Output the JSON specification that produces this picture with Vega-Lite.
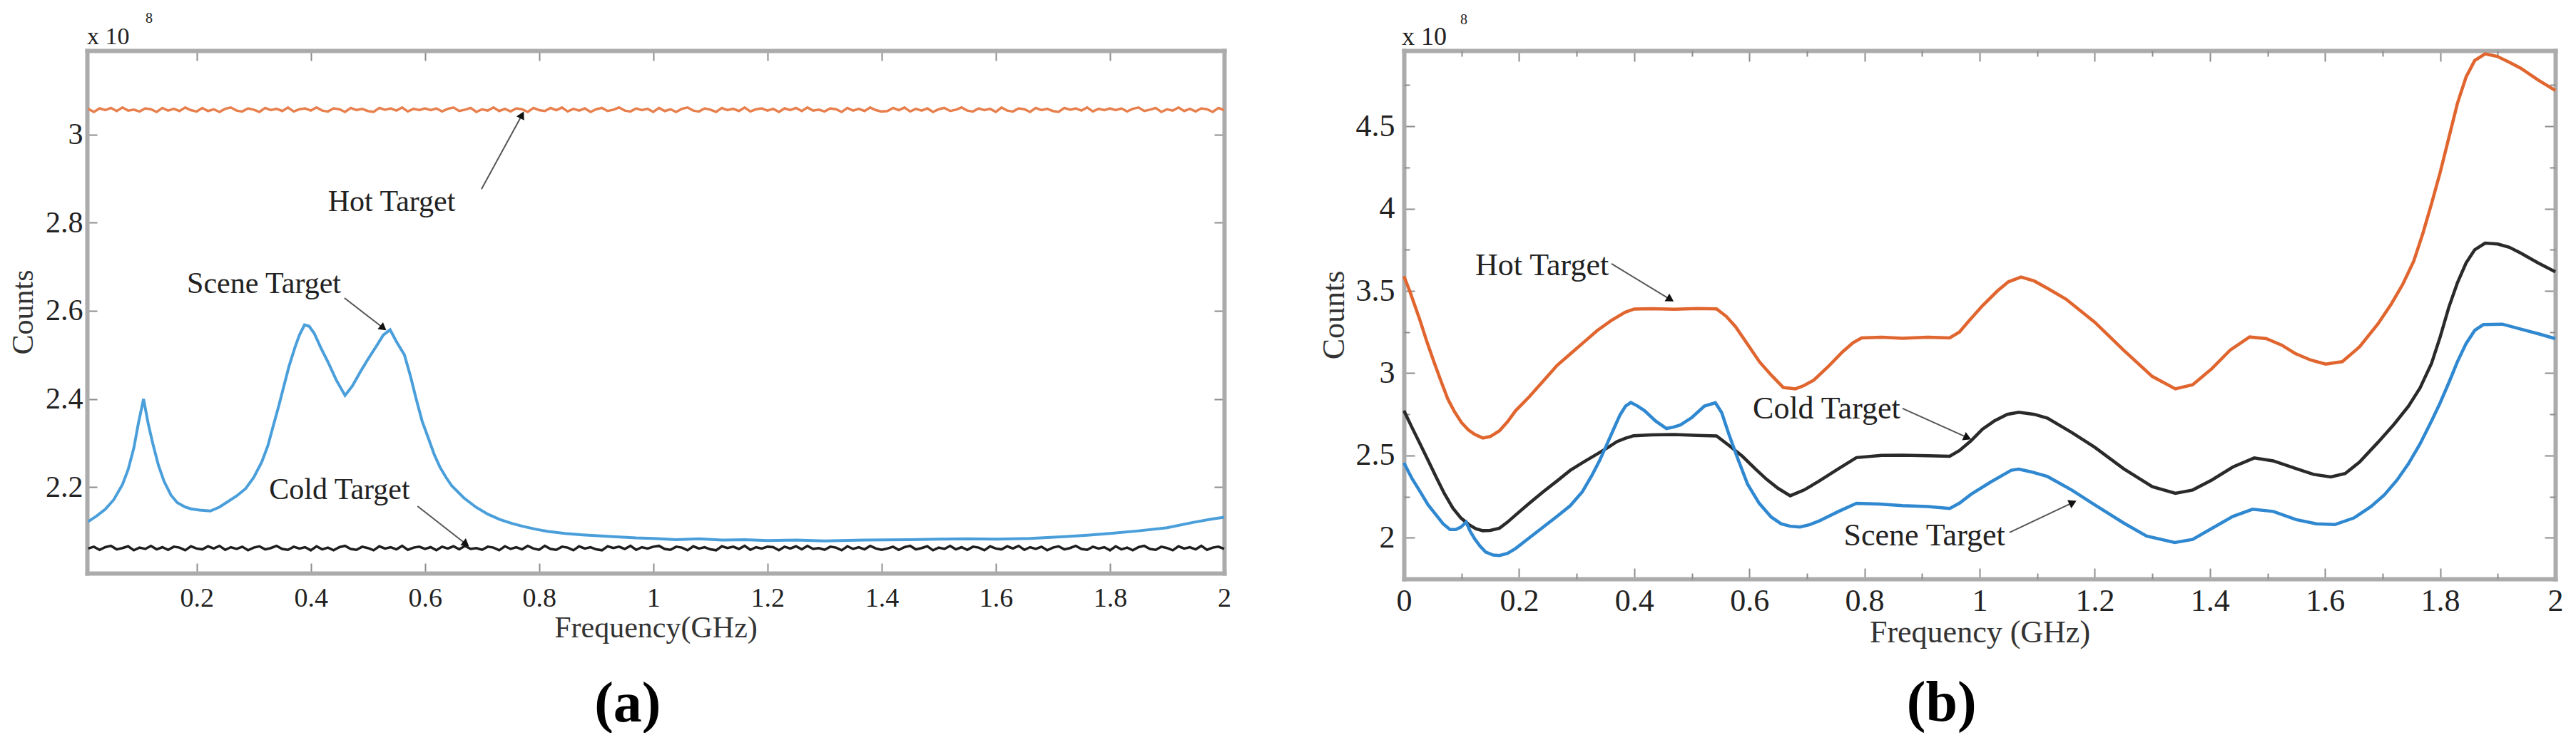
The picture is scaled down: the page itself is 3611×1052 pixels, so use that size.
{
"$schema": "https://vega.github.io/schema/vega-lite/v6.json",
"background": "white",
"padding": {"left": 11, "top": 16, "right": 0, "bottom": 0},
"config": {"font": "Liberation Serif", "view": {"stroke": null}, "axis": {"grid": false}},
"datasets": {
"a_noise": [
{"f":0.01,"H":3.058,"C":2.061},{"f":0.02,"H":3.051,"C":2.065},{"f":0.03,"H":3.059,"C":2.058},{"f":0.04,"H":3.055,"C":2.064},{"f":0.05,"H":3.060,"C":2.067},
{"f":0.06,"H":3.053,"C":2.059},{"f":0.07,"H":3.061,"C":2.062},{"f":0.08,"H":3.054,"C":2.066},{"f":0.09,"H":3.056,"C":2.057},{"f":0.10,"H":3.052,"C":2.063},
{"f":0.11,"H":3.059,"C":2.060},{"f":0.12,"H":3.057,"C":2.067},{"f":0.13,"H":3.051,"C":2.059},{"f":0.14,"H":3.060,"C":2.064},{"f":0.15,"H":3.054,"C":2.058},
{"f":0.16,"H":3.058,"C":2.065},{"f":0.17,"H":3.053,"C":2.063},{"f":0.18,"H":3.061,"C":2.057},{"f":0.19,"H":3.055,"C":2.066},{"f":0.20,"H":3.052,"C":2.061},
{"f":0.21,"H":3.060,"C":2.059},{"f":0.22,"H":3.053,"C":2.066},{"f":0.23,"H":3.057,"C":2.061},{"f":0.24,"H":3.051,"C":2.067},{"f":0.25,"H":3.058,"C":2.058},
{"f":0.26,"H":3.061,"C":2.064},{"f":0.27,"H":3.054,"C":2.060},{"f":0.28,"H":3.052,"C":2.065},{"f":0.29,"H":3.059,"C":2.057},{"f":0.30,"H":3.056,"C":2.063},
{"f":0.31,"H":3.051,"C":2.066},{"f":0.32,"H":3.060,"C":2.059},{"f":0.33,"H":3.055,"C":2.062},{"f":0.34,"H":3.058,"C":2.067},{"f":0.35,"H":3.053,"C":2.060},
{"f":0.36,"H":3.061,"C":2.058},{"f":0.37,"H":3.052,"C":2.065},{"f":0.38,"H":3.057,"C":2.061},{"f":0.39,"H":3.059,"C":2.064},{"f":0.40,"H":3.054,"C":2.057},
{"f":0.41,"H":3.061,"C":2.066},{"f":0.42,"H":3.054,"C":2.059},{"f":0.43,"H":3.052,"C":2.063},{"f":0.44,"H":3.059,"C":2.057},{"f":0.45,"H":3.057,"C":2.064},
{"f":0.46,"H":3.051,"C":2.067},{"f":0.47,"H":3.060,"C":2.060},{"f":0.48,"H":3.055,"C":2.058},{"f":0.49,"H":3.058,"C":2.065},{"f":0.50,"H":3.053,"C":2.062},
{"f":0.51,"H":3.051,"C":2.057},{"f":0.52,"H":3.060,"C":2.066},{"f":0.53,"H":3.056,"C":2.061},{"f":0.54,"H":3.059,"C":2.064},{"f":0.55,"H":3.054,"C":2.059},
{"f":0.56,"H":3.061,"C":2.067},{"f":0.57,"H":3.052,"C":2.058},{"f":0.58,"H":3.058,"C":2.063},{"f":0.59,"H":3.055,"C":2.065},{"f":0.60,"H":3.059,"C":2.060},
{"f":0.61,"H":3.055,"C":2.064},{"f":0.62,"H":3.059,"C":2.057},{"f":0.63,"H":3.052,"C":2.065},{"f":0.64,"H":3.058,"C":2.061},{"f":0.65,"H":3.061,"C":2.066},
{"f":0.66,"H":3.053,"C":2.059},{"f":0.67,"H":3.056,"C":2.067},{"f":0.68,"H":3.060,"C":2.060},{"f":0.69,"H":3.051,"C":2.062},{"f":0.70,"H":3.057,"C":2.058},
{"f":0.71,"H":3.054,"C":2.065},{"f":0.72,"H":3.061,"C":2.063},{"f":0.73,"H":3.053,"C":2.057},{"f":0.74,"H":3.058,"C":2.066},{"f":0.75,"H":3.052,"C":2.060},
{"f":0.76,"H":3.059,"C":2.064},{"f":0.77,"H":3.057,"C":2.059},{"f":0.78,"H":3.051,"C":2.067},{"f":0.79,"H":3.060,"C":2.061},{"f":0.80,"H":3.055,"C":2.058},
{"f":0.81,"H":3.053,"C":2.067},{"f":0.82,"H":3.060,"C":2.060},{"f":0.83,"H":3.055,"C":2.058},{"f":0.84,"H":3.061,"C":2.065},{"f":0.85,"H":3.052,"C":2.063},
{"f":0.86,"H":3.058,"C":2.057},{"f":0.87,"H":3.054,"C":2.066},{"f":0.88,"H":3.059,"C":2.061},{"f":0.89,"H":3.051,"C":2.064},{"f":0.90,"H":3.057,"C":2.059},
{"f":0.91,"H":3.060,"C":2.057},{"f":0.92,"H":3.053,"C":2.066},{"f":0.93,"H":3.056,"C":2.062},{"f":0.94,"H":3.061,"C":2.065},{"f":0.95,"H":3.054,"C":2.060},
{"f":0.96,"H":3.052,"C":2.067},{"f":0.97,"H":3.059,"C":2.058},{"f":0.98,"H":3.055,"C":2.064},{"f":0.99,"H":3.058,"C":2.061},{"f":1.00,"H":3.051,"C":2.065},
{"f":1.01,"H":3.060,"C":2.067},{"f":1.02,"H":3.053,"C":2.060},{"f":1.03,"H":3.057,"C":2.058},{"f":1.04,"H":3.051,"C":2.065},{"f":1.05,"H":3.058,"C":2.063},
{"f":1.06,"H":3.061,"C":2.057},{"f":1.07,"H":3.054,"C":2.066},{"f":1.08,"H":3.052,"C":2.061},{"f":1.09,"H":3.059,"C":2.064},{"f":1.10,"H":3.056,"C":2.059},
{"f":1.11,"H":3.051,"C":2.057},{"f":1.12,"H":3.060,"C":2.066},{"f":1.13,"H":3.055,"C":2.062},{"f":1.14,"H":3.058,"C":2.065},{"f":1.15,"H":3.053,"C":2.060},
{"f":1.16,"H":3.061,"C":2.067},{"f":1.17,"H":3.052,"C":2.058},{"f":1.18,"H":3.057,"C":2.064},{"f":1.19,"H":3.059,"C":2.061},{"f":1.20,"H":3.054,"C":2.065},
{"f":1.21,"H":3.058,"C":2.064},{"f":1.22,"H":3.051,"C":2.057},{"f":1.23,"H":3.059,"C":2.065},{"f":1.24,"H":3.055,"C":2.061},{"f":1.25,"H":3.060,"C":2.066},
{"f":1.26,"H":3.053,"C":2.059},{"f":1.27,"H":3.061,"C":2.067},{"f":1.28,"H":3.054,"C":2.060},{"f":1.29,"H":3.056,"C":2.062},{"f":1.30,"H":3.052,"C":2.058},
{"f":1.31,"H":3.059,"C":2.065},{"f":1.32,"H":3.057,"C":2.063},{"f":1.33,"H":3.051,"C":2.057},{"f":1.34,"H":3.060,"C":2.066},{"f":1.35,"H":3.054,"C":2.060},
{"f":1.36,"H":3.058,"C":2.064},{"f":1.37,"H":3.053,"C":2.059},{"f":1.38,"H":3.061,"C":2.067},{"f":1.39,"H":3.055,"C":2.061},{"f":1.40,"H":3.052,"C":2.058},
{"f":1.41,"H":3.053,"C":2.061},{"f":1.42,"H":3.060,"C":2.065},{"f":1.43,"H":3.055,"C":2.058},{"f":1.44,"H":3.061,"C":2.064},{"f":1.45,"H":3.052,"C":2.067},
{"f":1.46,"H":3.058,"C":2.059},{"f":1.47,"H":3.054,"C":2.062},{"f":1.48,"H":3.059,"C":2.066},{"f":1.49,"H":3.051,"C":2.057},{"f":1.50,"H":3.057,"C":2.063},
{"f":1.51,"H":3.060,"C":2.060},{"f":1.52,"H":3.053,"C":2.067},{"f":1.53,"H":3.056,"C":2.059},{"f":1.54,"H":3.061,"C":2.064},{"f":1.55,"H":3.054,"C":2.058},
{"f":1.56,"H":3.052,"C":2.065},{"f":1.57,"H":3.059,"C":2.063},{"f":1.58,"H":3.055,"C":2.057},{"f":1.59,"H":3.058,"C":2.066},{"f":1.60,"H":3.051,"C":2.061},
{"f":1.61,"H":3.061,"C":2.059},{"f":1.62,"H":3.054,"C":2.066},{"f":1.63,"H":3.052,"C":2.061},{"f":1.64,"H":3.059,"C":2.067},{"f":1.65,"H":3.057,"C":2.058},
{"f":1.66,"H":3.051,"C":2.064},{"f":1.67,"H":3.060,"C":2.060},{"f":1.68,"H":3.055,"C":2.065},{"f":1.69,"H":3.058,"C":2.057},{"f":1.70,"H":3.053,"C":2.063},
{"f":1.71,"H":3.051,"C":2.066},{"f":1.72,"H":3.060,"C":2.059},{"f":1.73,"H":3.056,"C":2.062},{"f":1.74,"H":3.059,"C":2.067},{"f":1.75,"H":3.054,"C":2.060},
{"f":1.76,"H":3.061,"C":2.058},{"f":1.77,"H":3.052,"C":2.065},{"f":1.78,"H":3.058,"C":2.061},{"f":1.79,"H":3.055,"C":2.064},{"f":1.80,"H":3.059,"C":2.057},
{"f":1.81,"H":3.055,"C":2.066},{"f":1.82,"H":3.059,"C":2.059},{"f":1.83,"H":3.052,"C":2.063},{"f":1.84,"H":3.058,"C":2.057},{"f":1.85,"H":3.061,"C":2.064},
{"f":1.86,"H":3.053,"C":2.067},{"f":1.87,"H":3.056,"C":2.060},{"f":1.88,"H":3.060,"C":2.058},{"f":1.89,"H":3.051,"C":2.065},{"f":1.90,"H":3.057,"C":2.062},
{"f":1.91,"H":3.054,"C":2.057},{"f":1.92,"H":3.061,"C":2.066},{"f":1.93,"H":3.053,"C":2.061},{"f":1.94,"H":3.058,"C":2.064},{"f":1.95,"H":3.052,"C":2.059},
{"f":1.96,"H":3.059,"C":2.067},{"f":1.97,"H":3.057,"C":2.058},{"f":1.98,"H":3.051,"C":2.063},{"f":1.99,"H":3.060,"C":2.065},{"f":2.00,"H":3.055,"C":2.060}
],
"a_scene": [
{"f":0.010,"v":2.122},{"f":0.025,"v":2.135},{"f":0.040,"v":2.150},{"f":0.055,"v":2.172},{"f":0.070,"v":2.206},{"f":0.080,"v":2.240},{"f":0.090,"v":2.289},{"f":0.098,"v":2.345},{"f":0.107,"v":2.400},{"f":0.115,"v":2.345},{"f":0.123,"v":2.300},{"f":0.133,"v":2.250},{"f":0.143,"v":2.213},{"f":0.155,"v":2.182},{"f":0.166,"v":2.165},{"f":0.180,"v":2.155},{"f":0.190,"v":2.151},{"f":0.205,"v":2.148},{"f":0.224,"v":2.146},{"f":0.240,"v":2.155},{"f":0.252,"v":2.165},{"f":0.270,"v":2.180},{"f":0.286,"v":2.197},{"f":0.300,"v":2.222},{"f":0.314,"v":2.257},{"f":0.325,"v":2.295},{"f":0.334,"v":2.338},{"f":0.344,"v":2.385},{"f":0.353,"v":2.430},{"f":0.362,"v":2.475},{"f":0.372,"v":2.516},{"f":0.380,"v":2.545},{"f":0.389,"v":2.568},{"f":0.397,"v":2.565},{"f":0.406,"v":2.549},{"f":0.418,"v":2.515},{"f":0.430,"v":2.484},{"f":0.445,"v":2.442},{"f":0.460,"v":2.408},{"f":0.473,"v":2.430},{"f":0.487,"v":2.462},{"f":0.500,"v":2.490},{"f":0.516,"v":2.522},{"f":0.527,"v":2.545},{"f":0.539,"v":2.557},{"f":0.550,"v":2.530},{"f":0.564,"v":2.500},{"f":0.575,"v":2.450},{"f":0.584,"v":2.403},{"f":0.595,"v":2.350},{"f":0.606,"v":2.311},{"f":0.616,"v":2.275},{"f":0.626,"v":2.246},{"f":0.637,"v":2.222},{"f":0.647,"v":2.203},{"f":0.668,"v":2.176},{"f":0.689,"v":2.155},{"f":0.710,"v":2.139},{"f":0.731,"v":2.127},{"f":0.752,"v":2.118},{"f":0.772,"v":2.111},{"f":0.793,"v":2.105},{"f":0.814,"v":2.100},{"f":0.845,"v":2.095},{"f":0.876,"v":2.092},{"f":0.930,"v":2.088},{"f":0.970,"v":2.085},{"f":1.000,"v":2.084},{"f":1.040,"v":2.081},{"f":1.080,"v":2.083},{"f":1.120,"v":2.080},{"f":1.160,"v":2.081},{"f":1.200,"v":2.079},{"f":1.250,"v":2.080},{"f":1.300,"v":2.078},{"f":1.370,"v":2.080},{"f":1.450,"v":2.081},{"f":1.500,"v":2.082},{"f":1.550,"v":2.083},{"f":1.600,"v":2.082},{"f":1.660,"v":2.084},{"f":1.720,"v":2.088},{"f":1.760,"v":2.091},{"f":1.800,"v":2.095},{"f":1.850,"v":2.101},{"f":1.900,"v":2.108},{"f":1.945,"v":2.120},{"f":1.975,"v":2.127},{"f":2.000,"v":2.132}
],
"a_ann": [{"f":0.430,"v":2.847,"t":"Hot Target"},{"f":0.183,"v":2.661,"t":"Scene Target"},{"f":0.327,"v":2.194,"t":"Cold Target"}],
"a_arrow": [{"t":"Hot","f":0.699,"v":2.876,"f2":0.770,"v2":3.044},{"t":"Scene","f":0.459,"v":2.629,"f2":0.527,"v2":2.561},{"t":"Cold","f":0.587,"v":2.157,"f2":0.672,"v2":2.071}],
"b_hot": [
{"f":0.000,"v":3.589},{"f":0.010,"v":3.50},{"f":0.028,"v":3.32},{"f":0.040,"v":3.19},{"f":0.052,"v":3.07},{"f":0.064,"v":2.955},{"f":0.076,"v":2.845},{"f":0.088,"v":2.765},{"f":0.100,"v":2.70},{"f":0.112,"v":2.655},{"f":0.123,"v":2.628},{"f":0.137,"v":2.606},{"f":0.150,"v":2.615},{"f":0.166,"v":2.65},{"f":0.180,"v":2.705},{"f":0.194,"v":2.772},{"f":0.218,"v":2.858},{"f":0.242,"v":2.952},{"f":0.266,"v":3.047},{"f":0.290,"v":3.12},{"f":0.313,"v":3.19},{"f":0.336,"v":3.26},{"f":0.360,"v":3.32},{"f":0.384,"v":3.37},{"f":0.400,"v":3.39},{"f":0.430,"v":3.392},{"f":0.470,"v":3.389},{"f":0.510,"v":3.393},{"f":0.543,"v":3.391},{"f":0.560,"v":3.345},{"f":0.576,"v":3.283},{"f":0.597,"v":3.175},{"f":0.618,"v":3.067},{"f":0.639,"v":2.985},{"f":0.659,"v":2.913},{"f":0.680,"v":2.905},{"f":0.695,"v":2.925},{"f":0.712,"v":2.958},{"f":0.737,"v":3.04},{"f":0.762,"v":3.13},{"f":0.780,"v":3.185},{"f":0.795,"v":3.214},{"f":0.830,"v":3.218},{"f":0.866,"v":3.212},{"f":0.910,"v":3.218},{"f":0.948,"v":3.214},{"f":0.965,"v":3.25},{"f":0.981,"v":3.316},{"f":1.005,"v":3.41},{"f":1.031,"v":3.50},{"f":1.050,"v":3.555},{"f":1.072,"v":3.584},{"f":1.095,"v":3.56},{"f":1.118,"v":3.515},{"f":1.150,"v":3.45},{"f":1.200,"v":3.31},{"f":1.250,"v":3.14},{"f":1.300,"v":2.98},{"f":1.340,"v":2.905},{"f":1.370,"v":2.93},{"f":1.403,"v":3.026},{"f":1.435,"v":3.14},{"f":1.469,"v":3.22},{"f":1.498,"v":3.21},{"f":1.525,"v":3.17},{"f":1.548,"v":3.12},{"f":1.575,"v":3.08},{"f":1.601,"v":3.055},{"f":1.630,"v":3.07},{"f":1.660,"v":3.16},{"f":1.692,"v":3.30},{"f":1.715,"v":3.42},{"f":1.735,"v":3.54},{"f":1.754,"v":3.68},{"f":1.770,"v":3.85},{"f":1.785,"v":4.03},{"f":1.800,"v":4.22},{"f":1.815,"v":4.43},{"f":1.830,"v":4.64},{"f":1.845,"v":4.80},{"f":1.860,"v":4.90},{"f":1.878,"v":4.94},{"f":1.899,"v":4.925},{"f":1.920,"v":4.89},{"f":1.940,"v":4.853},{"f":1.973,"v":4.775},{"f":2.000,"v":4.718}
],
"b_cold": [
{"f":0.000,"v":2.772},{"f":0.014,"v":2.67},{"f":0.028,"v":2.571},{"f":0.042,"v":2.47},{"f":0.056,"v":2.368},{"f":0.070,"v":2.27},{"f":0.085,"v":2.18},{"f":0.099,"v":2.12},{"f":0.113,"v":2.08},{"f":0.125,"v":2.055},{"f":0.137,"v":2.043},{"f":0.150,"v":2.045},{"f":0.166,"v":2.058},{"f":0.180,"v":2.095},{"f":0.194,"v":2.138},{"f":0.218,"v":2.21},{"f":0.242,"v":2.28},{"f":0.266,"v":2.345},{"f":0.289,"v":2.41},{"f":0.313,"v":2.462},{"f":0.337,"v":2.512},{"f":0.355,"v":2.55},{"f":0.370,"v":2.584},{"f":0.385,"v":2.605},{"f":0.399,"v":2.62},{"f":0.430,"v":2.625},{"f":0.470,"v":2.627},{"f":0.510,"v":2.622},{"f":0.543,"v":2.619},{"f":0.565,"v":2.56},{"f":0.588,"v":2.495},{"f":0.610,"v":2.42},{"f":0.630,"v":2.355},{"f":0.650,"v":2.30},{"f":0.671,"v":2.255},{"f":0.695,"v":2.29},{"f":0.720,"v":2.342},{"f":0.755,"v":2.42},{"f":0.786,"v":2.487},{"f":0.830,"v":2.50},{"f":0.866,"v":2.502},{"f":0.910,"v":2.498},{"f":0.948,"v":2.495},{"f":0.965,"v":2.53},{"f":0.985,"v":2.589},{"f":1.005,"v":2.66},{"f":1.026,"v":2.711},{"f":1.048,"v":2.75},{"f":1.068,"v":2.762},{"f":1.095,"v":2.75},{"f":1.118,"v":2.727},{"f":1.160,"v":2.64},{"f":1.200,"v":2.55},{"f":1.250,"v":2.42},{"f":1.300,"v":2.31},{"f":1.340,"v":2.27},{"f":1.370,"v":2.29},{"f":1.403,"v":2.35},{"f":1.440,"v":2.43},{"f":1.477,"v":2.485},{"f":1.510,"v":2.467},{"f":1.550,"v":2.42},{"f":1.580,"v":2.385},{"f":1.610,"v":2.37},{"f":1.635,"v":2.39},{"f":1.660,"v":2.46},{"f":1.692,"v":2.58},{"f":1.720,"v":2.69},{"f":1.745,"v":2.80},{"f":1.765,"v":2.91},{"f":1.785,"v":3.06},{"f":1.800,"v":3.22},{"f":1.815,"v":3.40},{"f":1.830,"v":3.55},{"f":1.845,"v":3.67},{"f":1.860,"v":3.75},{"f":1.878,"v":3.79},{"f":1.900,"v":3.785},{"f":1.920,"v":3.765},{"f":1.940,"v":3.73},{"f":1.970,"v":3.67},{"f":2.000,"v":3.616}
],
"b_scene": [
{"f":0.000,"v":2.455},{"f":0.014,"v":2.36},{"f":0.028,"v":2.281},{"f":0.042,"v":2.20},{"f":0.056,"v":2.138},{"f":0.068,"v":2.085},{"f":0.080,"v":2.05},{"f":0.090,"v":2.05},{"f":0.099,"v":2.065},{"f":0.108,"v":2.095},{"f":0.115,"v":2.04},{"f":0.123,"v":1.993},{"f":0.132,"v":1.95},{"f":0.142,"v":1.913},{"f":0.155,"v":1.895},{"f":0.166,"v":1.892},{"f":0.180,"v":1.905},{"f":0.194,"v":1.935},{"f":0.218,"v":2.00},{"f":0.242,"v":2.065},{"f":0.266,"v":2.13},{"f":0.289,"v":2.195},{"f":0.310,"v":2.28},{"f":0.327,"v":2.382},{"f":0.340,"v":2.47},{"f":0.351,"v":2.555},{"f":0.363,"v":2.65},{"f":0.375,"v":2.744},{"f":0.385,"v":2.80},{"f":0.394,"v":2.822},{"f":0.406,"v":2.80},{"f":0.418,"v":2.772},{"f":0.437,"v":2.71},{"f":0.456,"v":2.664},{"f":0.468,"v":2.672},{"f":0.480,"v":2.685},{"f":0.500,"v":2.73},{"f":0.522,"v":2.80},{"f":0.541,"v":2.82},{"f":0.552,"v":2.76},{"f":0.564,"v":2.634},{"f":0.580,"v":2.48},{"f":0.597,"v":2.325},{"f":0.617,"v":2.21},{"f":0.638,"v":2.126},{"f":0.655,"v":2.085},{"f":0.671,"v":2.07},{"f":0.688,"v":2.065},{"f":0.705,"v":2.08},{"f":0.720,"v":2.10},{"f":0.755,"v":2.16},{"f":0.786,"v":2.209},{"f":0.826,"v":2.205},{"f":0.866,"v":2.195},{"f":0.910,"v":2.19},{"f":0.948,"v":2.178},{"f":0.965,"v":2.21},{"f":0.985,"v":2.264},{"f":1.020,"v":2.34},{"f":1.055,"v":2.41},{"f":1.068,"v":2.417},{"f":1.090,"v":2.40},{"f":1.118,"v":2.372},{"f":1.160,"v":2.29},{"f":1.200,"v":2.20},{"f":1.250,"v":2.09},{"f":1.290,"v":2.01},{"f":1.339,"v":1.971},{"f":1.370,"v":1.99},{"f":1.400,"v":2.05},{"f":1.440,"v":2.13},{"f":1.474,"v":2.173},{"f":1.510,"v":2.16},{"f":1.550,"v":2.11},{"f":1.585,"v":2.085},{"f":1.617,"v":2.08},{"f":1.650,"v":2.12},{"f":1.680,"v":2.19},{"f":1.703,"v":2.26},{"f":1.725,"v":2.35},{"f":1.745,"v":2.45},{"f":1.765,"v":2.57},{"f":1.785,"v":2.71},{"f":1.800,"v":2.82},{"f":1.816,"v":2.95},{"f":1.830,"v":3.07},{"f":1.845,"v":3.18},{"f":1.860,"v":3.26},{"f":1.875,"v":3.295},{"f":1.908,"v":3.298},{"f":1.940,"v":3.268},{"f":1.970,"v":3.24},{"f":2.000,"v":3.21}
],
"b_ann": [{"f":0.124,"v":3.652,"t":"Hot Target"},{"f":0.606,"v":2.779,"t":"Cold Target"},{"f":0.764,"v":2.010,"t":"Scene Target"}],
"b_arrow": [{"t":"Hot","f":0.3606,"v":3.665,"f2":0.4628,"v2":3.448},{"t":"Cold","f":0.866,"v":2.786,"f2":0.979,"v2":2.608},{"t":"Scene","f":1.052,"v":2.032,"f2":1.162,"v2":2.214}]
},
"bounds": "flush",
"spacing": 252,
"hconcat": [
{
"width": 1594, "height": 733,
"resolve": {"axis": {"x": "independent", "y": "independent"}},
"layer": [
{"data": {"name": "a_noise"}, "transform": [{"fold": ["H", "C"], "as": ["s", "v"]}],
 "mark": {"type": "line", "strokeWidth": 3.5},
 "encoding": {
  "x": {"field": "f", "type": "quantitative", "scale": {"domain": [0.008, 2], "nice": false, "zero": false},
   "axis": {"orient": "bottom", "values": [0.2,0.4,0.6,0.8,1,1.2,1.4,1.6,1.8,2], "format": "~g", "tickSize": -14, "tickWidth": 2, "tickColor": "#8c8c8c", "domainColor": "#ababab", "domainWidth": 6, "domainCap": "square", "labelPadding": 30, "labelFontSize": 38, "labelColor": "#222", "labelFlush": false, "labelOverlap": false, "title": "Frequency(GHz)", "titleFontSize": 42, "titleFontWeight": "normal", "titleColor": "#333", "titleX": 797, "titleY": 76, "titleBaseline": "middle", "titleAlign": "center"}},
  "y": {"field": "v", "type": "quantitative", "scale": {"domain": [2.005, 3.19], "nice": false, "zero": false},
   "axis": {"orient": "left", "values": [2.2,2.4,2.6,2.8,3], "format": "~g", "tickSize": -14, "tickWidth": 2, "tickColor": "#8c8c8c", "domainColor": "#ababab", "domainWidth": 6, "domainCap": "square", "labelPadding": 20, "labelFontSize": 42, "labelColor": "#222", "labelFlush": false, "labelOverlap": false, "title": "Counts", "titleFontSize": 42, "titleFontWeight": "normal", "titleColor": "#333", "titleX": -90, "titleY": 366.5, "titleBaseline": "middle", "titleAlign": "center", "titleAngle": 270}},
  "color": {"field": "s", "type": "nominal", "scale": {"domain": ["H", "C"], "range": ["#E8804E", "#1e1e1e"]}, "legend": null}
 }},
{"data": {"name": "a_scene"},
 "mark": {"type": "line", "strokeWidth": 4, "color": "#4A9FDB"},
 "encoding": {
  "x": {"field": "f", "type": "quantitative", "axis": {"orient": "top", "values": [0.2,0.4,0.6,0.8,1,1.2,1.4,1.6,1.8,2], "tickSize": -14, "tickWidth": 2, "tickColor": "#8c8c8c", "domainColor": "#ababab", "domainWidth": 6, "domainCap": "square", "labels": false, "title": null}},
  "y": {"field": "v", "type": "quantitative", "axis": {"orient": "right", "values": [2.2,2.4,2.6,2.8,3], "tickSize": -14, "tickWidth": 2, "tickColor": "#8c8c8c", "domainColor": "#ababab", "domainWidth": 6, "domainCap": "square", "labels": false, "title": null}}
 }},
{"data": {"name": "a_ann"},
 "mark": {"type": "text", "align": "left", "baseline": "middle", "fontSize": 42, "color": "#222"},
 "encoding": {
  "x": {"field": "f", "type": "quantitative", "axis": null},
  "y": {"field": "v", "type": "quantitative", "axis": null},
  "text": {"field": "t"}
 }},
{"data": {"name": "a_arrow"},
 "mark": {"type": "rule", "color": "#555", "strokeWidth": 2},
 "encoding": {
  "x": {"field": "f", "type": "quantitative", "axis": null},
  "y": {"field": "v", "type": "quantitative", "axis": null},
  "x2": {"field": "f2"}, "y2": {"field": "v2"}
 }},
{"data": {"name": "a_arrow"}, "transform": [{"filter": "datum.t === 'Hot'"}],
 "mark": {"type": "point", "shape": "triangle-up", "filled": true, "color": "#111", "opacity": 1, "size": 150, "angle": 27.6},
 "encoding": {"x": {"field": "f2", "type": "quantitative", "axis": null}, "y": {"field": "v2", "type": "quantitative", "axis": null}}},
{"data": {"name": "a_arrow"}, "transform": [{"filter": "datum.t === 'Scene'"}],
 "mark": {"type": "point", "shape": "triangle-up", "filled": true, "color": "#111", "opacity": 1, "size": 150, "angle": 127.9},
 "encoding": {"x": {"field": "f2", "type": "quantitative", "axis": null}, "y": {"field": "v2", "type": "quantitative", "axis": null}}},
{"data": {"name": "a_arrow"}, "transform": [{"filter": "datum.t === 'Cold'"}],
 "mark": {"type": "point", "shape": "triangle-up", "filled": true, "color": "#111", "opacity": 1, "size": 150, "angle": 127.9},
 "encoding": {"x": {"field": "f2", "type": "quantitative", "axis": null}, "y": {"field": "v2", "type": "quantitative", "axis": null}}},
{"data": {"values": [{}]},
 "mark": {"type": "text", "text": "x 10", "align": "left", "baseline": "alphabetic", "fontSize": 34, "dy": -9, "color": "#222"},
 "encoding": {"x": {"datum": 0.008, "type": "quantitative", "axis": null}, "y": {"datum": 3.19, "type": "quantitative", "axis": null}}},
{"data": {"values": [{}]},
 "mark": {"type": "text", "text": "8", "align": "left", "baseline": "alphabetic", "fontSize": 20, "dx": 82, "dy": -39, "color": "#222"},
 "encoding": {"x": {"datum": 0.008, "type": "quantitative", "axis": null}, "y": {"datum": 3.19, "type": "quantitative", "axis": null}}},
{"data": {"values": [{}]},
 "mark": {"type": "text", "text": "(a)", "align": "center", "baseline": "middle", "fontSize": 80, "fontWeight": "bold", "dy": 184, "color": "#000"},
 "encoding": {"x": {"datum": 0.955, "type": "quantitative", "axis": null}, "y": {"datum": 2.005, "type": "quantitative", "axis": null}}}
]
},
{
"width": 1614, "height": 741,
"resolve": {"axis": {"x": "independent", "y": "independent"}},
"layer": [
{"data": {"name": "b_hot"},
 "mark": {"type": "line", "strokeWidth": 4.5, "color": "#E0652E"},
 "encoding": {
  "x": {"field": "f", "type": "quantitative", "scale": {"domain": [0, 2], "nice": false, "zero": false},
   "axis": {"orient": "bottom", "values": [0,0.2,0.4,0.6,0.8,1,1.2,1.4,1.6,1.8,2], "format": "~g", "tickSize": -15, "tickWidth": 2, "tickColor": "#8c8c8c", "domainColor": "#ababab", "domainWidth": 6, "domainCap": "square", "labelPadding": 24, "labelFontSize": 44, "labelColor": "#222", "labelFlush": false, "labelOverlap": false, "title": "Frequency (GHz)", "titleFontSize": 44, "titleFontWeight": "normal", "titleColor": "#333", "titleX": 807, "titleY": 75, "titleBaseline": "middle", "titleAlign": "center"}},
  "y": {"field": "v", "type": "quantitative", "scale": {"domain": [1.75, 4.96], "nice": false, "zero": false},
   "axis": {"orient": "left", "values": [2,2.5,3,3.5,4,4.5], "format": "~g", "tickSize": -15, "tickWidth": 2, "tickColor": "#8c8c8c", "domainColor": "#ababab", "domainWidth": 6, "domainCap": "square", "labelPadding": 28, "labelFontSize": 44, "labelColor": "#222", "labelFlush": false, "labelOverlap": false, "title": "Counts", "titleFontSize": 44, "titleFontWeight": "normal", "titleColor": "#333", "titleX": -98, "titleY": 370.5, "titleBaseline": "middle", "titleAlign": "center", "titleAngle": 270}}
 }},
{"data": {"name": "b_cold"},
 "mark": {"type": "line", "strokeWidth": 4.5, "color": "#2a2a2a"},
 "encoding": {
  "x": {"field": "f", "type": "quantitative", "axis": {"orient": "top", "values": [0.2,0.4,0.6,0.8,1,1.2,1.4,1.6,1.8], "tickSize": -15, "tickWidth": 2, "tickColor": "#8c8c8c", "domainColor": "#ababab", "domainWidth": 6, "domainCap": "square", "labels": false, "title": null}},
  "y": {"field": "v", "type": "quantitative", "axis": {"orient": "right", "values": [2,2.5,3,3.5,4,4.5], "tickSize": -15, "tickWidth": 2, "tickColor": "#8c8c8c", "domainColor": "#ababab", "domainWidth": 6, "domainCap": "square", "labels": false, "title": null}}
 }},
{"data": {"name": "b_scene"},
 "mark": {"type": "line", "strokeWidth": 4.5, "color": "#2F88D0"},
 "encoding": {
  "x": {"field": "f", "type": "quantitative", "axis": null},
  "y": {"field": "v", "type": "quantitative", "axis": null}
 }},
{"data": {"name": "b_ann"},
 "mark": {"type": "text", "align": "left", "baseline": "middle", "fontSize": 44, "color": "#222"},
 "encoding": {
  "x": {"field": "f", "type": "quantitative", "axis": {"orient": "bottom", "values": [0.1,0.3,0.5,0.7,0.9,1.1,1.3,1.5,1.7,1.9], "tickSize": -8, "tickWidth": 2, "tickColor": "#8c8c8c", "domain": false, "labels": false, "title": null}},
  "y": {"field": "v", "type": "quantitative", "axis": {"orient": "left", "values": [2.25,2.75,3.25,3.75,4.25,4.75], "tickSize": -8, "tickWidth": 2, "tickColor": "#8c8c8c", "domain": false, "labels": false, "title": null}},
  "text": {"field": "t"}
 }},
{"data": {"name": "b_arrow"},
 "mark": {"type": "rule", "color": "#555", "strokeWidth": 2},
 "encoding": {
  "x": {"field": "f", "type": "quantitative", "axis": {"orient": "top", "values": [0.1,0.3,0.5,0.7,0.9,1.1,1.3,1.5,1.7,1.9], "tickSize": -8, "tickWidth": 2, "tickColor": "#8c8c8c", "domain": false, "labels": false, "title": null}},
  "y": {"field": "v", "type": "quantitative", "axis": {"orient": "right", "values": [2.25,2.75,3.25,3.75,4.25,4.75], "tickSize": -8, "tickWidth": 2, "tickColor": "#8c8c8c", "domain": false, "labels": false, "title": null}},
  "x2": {"field": "f2"}, "y2": {"field": "v2"}
 }},
{"data": {"name": "b_arrow"}, "transform": [{"filter": "datum.t === 'Hot'"}],
 "mark": {"type": "point", "shape": "triangle-up", "filled": true, "color": "#111", "opacity": 1, "size": 160, "angle": 121.2},
 "encoding": {"x": {"field": "f2", "type": "quantitative", "axis": null}, "y": {"field": "v2", "type": "quantitative", "axis": null}}},
{"data": {"name": "b_arrow"}, "transform": [{"filter": "datum.t === 'Cold'"}],
 "mark": {"type": "point", "shape": "triangle-up", "filled": true, "color": "#111", "opacity": 1, "size": 160, "angle": 114.3},
 "encoding": {"x": {"field": "f2", "type": "quantitative", "axis": null}, "y": {"field": "v2", "type": "quantitative", "axis": null}}},
{"data": {"name": "b_arrow"}, "transform": [{"filter": "datum.t === 'Scene'"}],
 "mark": {"type": "point", "shape": "triangle-up", "filled": true, "color": "#111", "opacity": 1, "size": 160, "angle": 64.7},
 "encoding": {"x": {"field": "f2", "type": "quantitative", "axis": null}, "y": {"field": "v2", "type": "quantitative", "axis": null}}},
{"data": {"values": [{}]},
 "mark": {"type": "text", "text": "x 10", "align": "left", "baseline": "alphabetic", "fontSize": 36, "dx": -3, "dy": -8, "color": "#222"},
 "encoding": {"x": {"datum": 0, "type": "quantitative", "axis": null}, "y": {"datum": 4.96, "type": "quantitative", "axis": null}}},
{"data": {"values": [{}]},
 "mark": {"type": "text", "text": "8", "align": "left", "baseline": "alphabetic", "fontSize": 20, "dx": 79, "dy": -37, "color": "#222"},
 "encoding": {"x": {"datum": 0, "type": "quantitative", "axis": null}, "y": {"datum": 4.96, "type": "quantitative", "axis": null}}},
{"data": {"values": [{}]},
 "mark": {"type": "text", "text": "(b)", "align": "center", "baseline": "middle", "fontSize": 80, "fontWeight": "bold", "dy": 175, "color": "#000"},
 "encoding": {"x": {"datum": 0.934, "type": "quantitative", "axis": null}, "y": {"datum": 1.75, "type": "quantitative", "axis": null}}}
]
}
]
}
